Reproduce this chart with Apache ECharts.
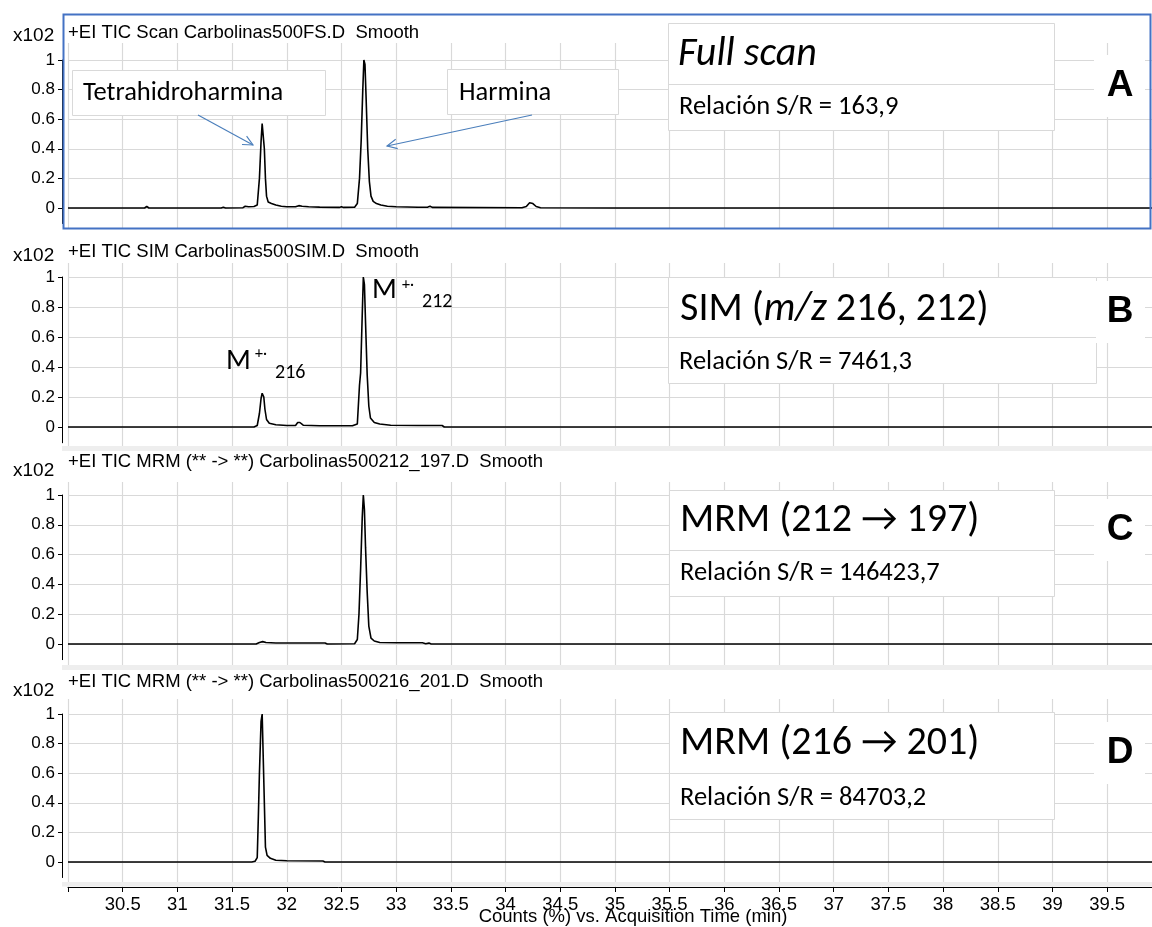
<!DOCTYPE html>
<html>
<head>
<meta charset="utf-8">
<script src="https://cdn.jsdelivr.net/npm/echarts/dist/echarts.min.js"></script>
<style>
html,body{margin:0;padding:0;background:#fff;}
#chart{width:1152px;height:927px;}
</style>
</head>
<body>
<div id="chart"></div>
<script>
// ---------------- DATA ----------------
const xTickValues = [30, 30.5, 31, 31.5, 32, 32.5, 33, 33.5, 34, 34.5, 35, 35.5, 36, 36.5, 37, 37.5, 38, 38.5, 39, 39.5];
const xLabelValues = [30.5, 31, 31.5, 32, 32.5, 33, 33.5, 34, 34.5, 35, 35.5, 36, 36.5, 37, 37.5, 38, 38.5, 39, 39.5];
const yTickValues = [0, 0.2, 0.4, 0.6, 0.8, 1];
const xAxisTitle = 'Counts (%) vs. Acquisition Time (min)';
const yScaleLabel = 'x102';

const headerTexts = [
  '+EI TIC Scan Carbolinas500FS.D  Smooth',
  '+EI TIC SIM Carbolinas500SIM.D  Smooth',
  '+EI TIC MRM (** -> **) Carbolinas500212_197.D  Smooth',
  '+EI TIC MRM (** -> **) Carbolinas500216_201.D  Smooth'
];
const panelLetters = ['A', 'B', 'C', 'D'];
const snTexts = ['Relación S/R = 163,9', 'Relación S/R = 7461,3', 'Relación S/R = 146423,7', 'Relación S/R = 84703,2'];
const peakNames = ['Tetrahidroharmina', 'Harmina'];
const ionLabels = [['M', '+·', '216'], ['M', '+·', '212']];

// Panel A : Full scan  [time (min), counts x10^2]
const scanA = [[30.0,0],[30.70,0],[30.72,0.01],[30.74,0],[31.40,0],[31.42,0.005],[31.44,0],[31.60,0.002],[31.62,0.012],[31.65,0.008],[31.70,0.01],[31.73,0.02],[31.75,0.2],[31.765,0.45],[31.775,0.57],[31.785,0.56],[31.795,0.4],[31.805,0.2],[31.815,0.08],[31.83,0.04],[31.86,0.03],[31.90,0.02],[31.95,0.012],[32.0,0.008],[32.08,0.008],[32.11,0.016],[32.14,0.012],[32.2,0.008],[32.3,0.006],[32.48,0.004],[32.5,0.008],[32.52,0.004],[32.62,0.005],[32.645,0.03],[32.665,0.2],[32.68,0.45],[32.695,0.8],[32.705,1.0],[32.715,0.97],[32.725,0.75],[32.74,0.4],[32.755,0.18],[32.77,0.08],[32.79,0.045],[32.82,0.03],[32.86,0.02],[32.92,0.012],[33.0,0.008],[33.2,0.005],[33.29,0.006],[33.31,0.012],[33.33,0.004],[34.15,0.002],[34.19,0.01],[34.22,0.035],[34.25,0.03],[34.28,0.01],[34.32,0.002],[35.0,0],[39.91,0]];
// Panel B : SIM m/z 216, 212
const simB = [[30.0,0],[31.70,0],[31.73,0.01],[31.75,0.09],[31.765,0.19],[31.775,0.225],[31.79,0.2],[31.80,0.12],[31.815,0.05],[31.84,0.025],[31.90,0.015],[32.0,0.01],[32.08,0.01],[32.10,0.03],[32.12,0.03],[32.15,0.012],[32.3,0.008],[32.6,0.008],[32.645,0.02],[32.665,0.28],[32.675,0.36],[32.69,0.75],[32.70,1.0],[32.71,0.95],[32.72,0.7],[32.735,0.35],[32.75,0.14],[32.765,0.06],[32.8,0.03],[32.85,0.02],[32.95,0.012],[33.2,0.01],[33.42,0.01],[33.44,0],[39.91,0]];
// Panel C : MRM 212 -> 197
const mrmC = [[30.0,0],[31.72,0],[31.75,0.01],[31.78,0.016],[31.81,0.01],[31.9,0.007],[32.35,0.007],[32.37,0],[32.62,0.002],[32.645,0.03],[32.66,0.2],[32.675,0.5],[32.69,0.85],[32.70,1.0],[32.71,0.9],[32.72,0.65],[32.735,0.35],[32.75,0.12],[32.77,0.04],[32.8,0.02],[32.85,0.01],[33.0,0.008],[33.24,0.008],[33.27,0.002],[33.30,0.006],[33.32,0],[39.91,0]];
// Panel D : MRM 216 -> 201
const mrmD = [[30.0,0],[31.68,0],[31.71,0.005],[31.73,0.03],[31.74,0.3],[31.75,0.6],[31.765,0.95],[31.775,1.0],[31.785,0.7],[31.795,0.4],[31.805,0.1],[31.82,0.045],[31.85,0.025],[31.9,0.012],[32.0,0.008],[32.33,0.007],[32.35,0],[39.91,0]];
const panelData = [scanA, simB, mrmC, mrmD];

// ---------------- LAYOUT ----------------
const X_MIN = 30, X_MAX = 39.91;
const PLOT_LEFT = 68;
const AXIS_LEFT = 62;
// pixel rows of each panel: value 0, value 1, plot top, plot bottom, header y
const panels = [
  {zero: 208, one: 60,  top: 43,  bottom: 228, head: 33},
  {zero: 427, one: 277, top: 263, bottom: 446, head: 252},
  {zero: 644, one: 495, top: 482, bottom: 665, head: 462},
  {zero: 862, one: 714, top: 699, bottom: 887, head: 682}
];
const xdy = [3, 4, 9, 9];
const boxes = [
  {x: 668, y: 23,  w: 386, h: 107, div: 84,  t: 55,  s: 107},
  {x: 668, y: 277, w: 428, h: 106, div: 337, t: 310, s: 362},
  {x: 669, y: 490, w: 385, h: 106, div: 550, t: 521, s: 573},
  {x: 669, y: 712, w: 385, h: 107, div: 773, t: 744, s: 798}
];
const letterY = [86, 312, 530, 753];

const CAL = "Carlito, Lato, 'Open Sans', sans-serif";
const ARIAL = "'Liberation Sans', Arial, sans-serif";
const GRID = '#d9d9d9';
const BLUE = '#4a7ebb';

const grids = [], xAxes = [], yAxes = [], series = [], graphics = [];

panels.forEach((p, i) => {
  const ppu = p.zero - p.one;
  const yMax = (p.zero - p.top) / ppu;
  const yMin = -(p.bottom - p.zero) / ppu;
  const isLast = i === panels.length - 1;
  grids.push({left: PLOT_LEFT, right: 0, top: p.top, height: p.bottom - p.top});
  xAxes.push({
    gridIndex: i, type: 'value', min: X_MIN, max: X_MAX,
    axisLine: {show: isLast, onZero: false, lineStyle: {color: '#000', width: 1}},
    axisTick: {show: isLast, customValues: xTickValues, length: 5, lineStyle: {color: '#000'}},
    axisLabel: {show: isLast, customValues: xLabelValues, color: '#000', fontFamily: ARIAL, fontSize: 18.5, margin: 8},
    splitLine: {show: true, lineStyle: {color: GRID, width: 1.2}}
  });
  yAxes.push({
    gridIndex: i, type: 'value', min: yMin, max: yMax,
    axisLine: {show: false}, axisLabel: {show: false},
    axisTick: {show: false, customValues: yTickValues},
    splitLine: {show: true, lineStyle: {color: GRID, width: 1.2}}
  });
  series.push({
    type: 'line', xAxisIndex: i, yAxisIndex: i, data: panelData[i],
    showSymbol: false, symbol: 'none', smooth: false, animation: false,
    lineStyle: {color: '#000', width: 1.6}, z: 5
  });
});

// y-axis (line, ticks, labels) grids
panels.forEach((p, i) => {
  const ppu = p.zero - p.one;
  const axisBottom = p.zero + 0.105 * ppu;
  const gi = panels.length + i;
  grids.push({left: AXIS_LEFT, width: 4, top: p.one, height: axisBottom - p.one});
  xAxes.push({gridIndex: gi, type: 'value', min: 0, max: 1, show: false});
  yAxes.push({
    gridIndex: gi, type: 'value', min: -0.105, max: 1,
    axisLine: {show: true, lineStyle: {color: '#000', width: 1}},
    axisTick: {show: true, inside: false, length: 4, customValues: yTickValues, lineStyle: {color: '#000'}},
    axisLabel: {show: true, customValues: yTickValues, color: '#000', fontFamily: ARIAL, fontSize: 17, margin: 7},
    splitLine: {show: false}
  });
});

// ---------------- ANNOTATIONS ----------------
function txt(x, y, text, font, align, extra) {
  return Object.assign({type: 'text', x: x, y: y, z: 20,
    style: {text: text, font: font, fill: '#000', align: align || 'left', verticalAlign: 'middle'}}, extra || {});
}
function rect(x, y, w, h, stroke, fill, lw, z) {
  return {type: 'rect', z: z || 15, shape: {x: x + 0.5, y: y + 0.5, width: w, height: h},
    style: {fill: fill, stroke: stroke, lineWidth: lw || 1}};
}
function arrow(x1, y1, x2, y2) {
  const ang = Math.atan2(y2 - y1, x2 - x1), L = 11, a = 0.45;
  const p1 = [x2 - L * Math.cos(ang - a), y2 - L * Math.sin(ang - a)];
  const p2 = [x2 - L * Math.cos(ang + a), y2 - L * Math.sin(ang + a)];
  return [
    {type: 'line', z: 20, shape: {x1: x1, y1: y1, x2: x2, y2: y2}, style: {stroke: BLUE, lineWidth: 1.1}},
    {type: 'polyline', z: 20, shape: {points: [p1, [x2, y2], p2]}, style: {stroke: BLUE, lineWidth: 1.1, fill: null}}
  ];
}

// panel separators (light grey bands)
graphics.push({type: 'rect', z: 12, shape: {x: 62, y: 446, width: 1090, height: 5}, style: {fill: '#eeeeee'}});
graphics.push({type: 'rect', z: 12, shape: {x: 62, y: 665, width: 1090, height: 5}, style: {fill: '#eeeeee'}});
graphics.push({type: 'rect', z: 12, shape: {x: 62, y: 882, width: 1090, height: 4.5}, style: {fill: '#eeeeee'}});
// selection frame around panel A
graphics.push(rect(63, 14, 1087, 214, '#4472c4', null, 2, 30));

panels.forEach((p, i) => {
  graphics.push(txt(PLOT_LEFT, p.head, headerTexts[i], '18.5px ' + ARIAL));
  graphics.push(txt(13, p.head + xdy[i], yScaleLabel, '19px ' + ARIAL));
  const b = boxes[i];
  graphics.push(rect(b.x, b.y, b.w, b.h, '#d9d9d9', '#fff', 1));
  graphics.push({type: 'line', z: 16, shape: {x1: b.x, y1: b.div + 0.5, x2: b.x + b.w, y2: b.div + 0.5}, style: {stroke: '#d9d9d9', lineWidth: 1}});
  graphics.push(txt(b.x + 11, b.s, snTexts[i], '26.5px ' + CAL));
  // letter with white background
  graphics.push({type: 'rect', z: 15, shape: {x: 1094, y: letterY[i] - 31, width: 51, height: 62}, style: {fill: '#fff'}});
  graphics.push(txt(1120, letterY[i], panelLetters[i], 'bold 37px ' + ARIAL, 'center'));
});

// box titles
graphics.push(txt(678, boxes[0].t, 'Full scan', 'italic 40px ' + CAL));
graphics.push({type: 'text', x: 680, y: boxes[1].t, z: 20, style: {
  text: '{n|SIM (}{i|m/z}{n| 216, 212)}', fill: '#000', align: 'left', verticalAlign: 'middle',
  rich: {n: {font: '40px ' + CAL, fill: '#000'}, i: {font: 'italic 40px ' + CAL, fill: '#000'}}}});
graphics.push(txt(680, boxes[2].t, 'MRM (212 \u2192 197)', '40px ' + CAL));
graphics.push(txt(680, boxes[3].t, 'MRM (216 \u2192 201)', '40px ' + CAL));

// compound call-outs in panel A
graphics.push(rect(72, 70, 253, 45, '#d9d9d9', '#fff', 1));
graphics.push(txt(83, 93, peakNames[0], '26.5px ' + CAL));
graphics.push(rect(447, 69, 171, 45, '#d9d9d9', '#fff', 1));
graphics.push(txt(459, 93, peakNames[1], '26.5px ' + CAL));
arrow(198, 115, 253, 145).forEach(g => graphics.push(g));
arrow(532, 115, 387, 146).forEach(g => graphics.push(g));

// molecular-ion labels in panel B
graphics.push(txt(226, 362, ionLabels[0][0], '29px ' + CAL));
graphics.push(txt(255, 354, ionLabels[0][1], '16px ' + CAL));
graphics.push(txt(275, 373, ionLabels[0][2], '20px ' + CAL));
graphics.push(txt(372, 291, ionLabels[1][0], '29px ' + CAL));
graphics.push(txt(402, 285, ionLabels[1][1], '16px ' + CAL));
graphics.push(txt(422, 302, ionLabels[1][2], '20px ' + CAL));

// x-axis title
graphics.push(txt(633, 917, xAxisTitle, '18.5px ' + ARIAL, 'center'));

const chart = echarts.init(document.getElementById('chart'), null, {renderer: 'canvas'});
chart.setOption({
  animation: false,
  backgroundColor: '#fff',
  grid: grids,
  xAxis: xAxes,
  yAxis: yAxes,
  series: series,
  graphic: {elements: graphics}
});
</script>
</body>
</html>
